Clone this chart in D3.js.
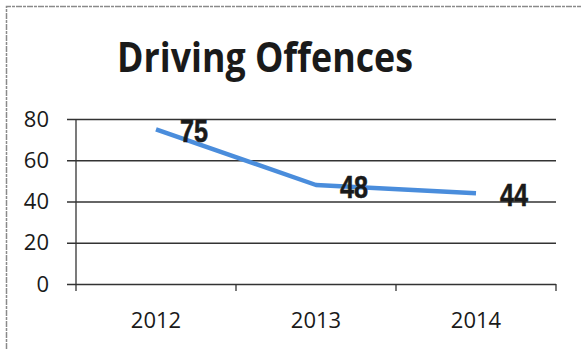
<!DOCTYPE html>
<html>
<head>
<meta charset="utf-8">
<script src="https://cdn.jsdelivr.net/npm/d3@7"></script>
<style>
  html, body { margin: 0; padding: 0; background: #fff; }
  svg { display: block; }
</style>
</head>
<body>
<svg id="chart" width="581" height="349"></svg>
<script>
// Driving offences per year
const years = ["2012", "2013", "2014"];
const offences = [75, 48, 44];
const yTicks = [0, 20, 40, 60, 80];
const chartTitle = "Driving Offences";

const W = 581, H = 349;
const margin = { left: 76, right: 25, top: 119, bottom: 65 };
const svg = d3.select("#chart");

// Outer frame (top and left edges only are visible)
svg.append("path")
  .attr("d", `M6.5,${H} V6.5 H${W}`)
  .attr("fill", "none")
  .attr("stroke", "#8a8a8a")
  .attr("stroke-width", 1.5)
  .attr("stroke-dasharray", "6 1 3 1");

const x = d3.scaleBand()
  .domain(years)
  .range([margin.left, W - margin.right]);

const y = d3.scaleLinear()
  .domain([0, 80])
  .range([H - margin.bottom, margin.top]);

// Title
svg.append("text")
  .attr("x", 265)
  .attr("y", 72)
  .attr("text-anchor", "middle")
  .attr("font-family", "'Open Sans', sans-serif")
  .attr("font-weight", "bold")
  .attr("font-size", 41)
  .attr("textLength", 296)
  .attr("lengthAdjust", "spacingAndGlyphs")
  .attr("fill", "#1a1a1a")
  .text(chartTitle);

// Horizontal gridlines + y tick labels
const yAxis = d3.axisLeft(y)
  .tickValues(yTicks)
  .tickSize(-(W - margin.right - margin.left))
  .tickPadding(27)
  .tickFormat(d3.format("d"));

const gy = svg.append("g")
  .attr("transform", `translate(${margin.left},0)`)
  .call(yAxis);
gy.select(".domain").remove();
gy.selectAll(".tick line")
  .attr("x1", -9)
  .attr("stroke", "#333")
  .attr("stroke-width", 1.3);
gy.selectAll(".tick text")
  .attr("font-family", "'Open Sans', sans-serif")
  .attr("font-size", 22)
  .attr("fill", "#1a1a1a");

// Vertical axis line
svg.append("line")
  .attr("x1", margin.left).attr("x2", margin.left)
  .attr("y1", y(80)).attr("y2", y(0) + 7)
  .attr("stroke", "#333")
  .attr("stroke-width", 1.3);

// Category axis with tick marks at band edges
const gx = svg.append("g")
  .attr("transform", `translate(0,${y(0)})`);
const edges = years.map(d => x(d)).concat([x(years[years.length - 1]) + x.bandwidth()]);
gx.selectAll("line.edge")
  .data(edges.slice(1))
  .join("line")
  .attr("class", "edge")
  .attr("x1", d => d).attr("x2", d => d)
  .attr("y1", 0).attr("y2", 7)
  .attr("stroke", "#333")
  .attr("stroke-width", 1.3);
gx.selectAll("text")
  .data(years)
  .join("text")
  .attr("x", d => x(d) + x.bandwidth() / 2)
  .attr("y", 44)
  .attr("text-anchor", "middle")
  .attr("font-family", "'Open Sans', sans-serif")
  .attr("font-size", 22)
  .attr("fill", "#1a1a1a")
  .text(d => d);

// Data line
const line = d3.line()
  .x((d, i) => x(years[i]) + x.bandwidth() / 2)
  .y(d => y(d));

svg.append("path")
  .datum(offences)
  .attr("d", line)
  .attr("fill", "none")
  .attr("stroke", "#4a8ddc")
  .attr("stroke-width", 4.5)
  .attr("stroke-linejoin", "round");

// Value labels to the right of each point (bold, condensed)
svg.selectAll("text.val")
  .data(offences)
  .join("text")
  .attr("class", "val")
  .attr("x", (d, i) => x(years[i]) + x.bandwidth() / 2 + 24)
  .attr("y", d => y(d) + 13)
  .attr("font-family", "'Liberation Sans', Arial, sans-serif")
  .attr("font-weight", "bold")
  .attr("font-size", 31)
  .attr("textLength", 28)
  .attr("lengthAdjust", "spacingAndGlyphs")
  .attr("fill", "#1a1a1a")
  .attr("stroke", "#1a1a1a")
  .attr("stroke-width", 0.6)
  .text(d => d);
</script>
</body>
</html>
